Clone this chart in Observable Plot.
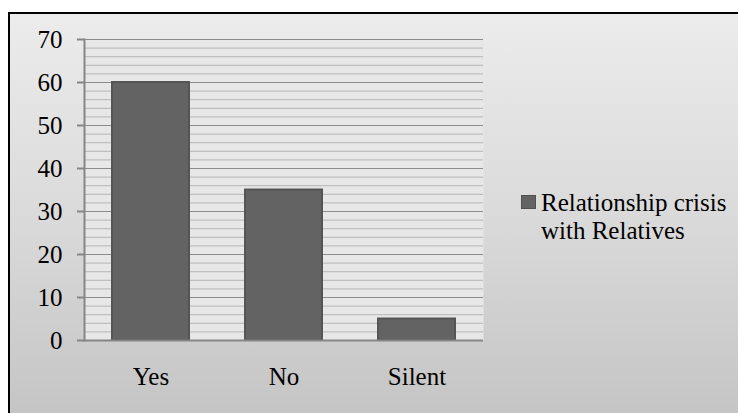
<!DOCTYPE html>
<html>
<head>
<meta charset="utf-8">
<script src="https://cdn.jsdelivr.net/npm/d3@7"></script>
<script src="https://cdn.jsdelivr.net/npm/@observablehq/plot@0.6"></script>
<style>
  html, body { margin: 0; padding: 0; width: 738px; height: 413px; overflow: hidden; background: #fff; }
  #panel {
    position: absolute; left: 8px; top: 12px; width: 760px; height: 430px;
    border: 2px solid #000; box-sizing: border-box;
    background: linear-gradient(to bottom, #ececec 0%, #d9d9d9 50%, #c2c2c2 100%);
  }
  #chart { position: absolute; left: 0; top: 0; }
  #legend {
    position: absolute; left: 521px; top: 189px;
    font-family: "Liberation Serif", "Times New Roman", serif; font-size: 25px; line-height: 28px; color: #000;
  }
  #legend .swatch {
    position: absolute; left: 0; top: 6px; width: 13px; height: 12px;
    background: #636363; border: 1px solid #4f4f4f;
  }
  #legend .label { position: absolute; left: 20px; top: 0; white-space: nowrap; }
</style>
</head>
<body>
<div id="panel"></div>
<div id="chart"></div>
<div id="legend"><span class="swatch"></span><div class="label">Relationship crisis<br>with Relatives</div></div>
<script>
// Responses
const answers = ["Yes", "No", "Silent"];
const counts = [60, 35, 5];
const seriesName = "Relationship crisis with Relatives";

// Axis ticks
const yTicks = [0, 10, 20, 30, 40, 50, 60, 70];
const minorTicks = [2, 4, 6, 8, 12, 14, 16, 18, 22, 24, 26, 28, 32, 34, 36, 38, 42, 44, 46, 48, 52, 54, 56, 58, 62, 64, 66, 68];

const data = answers.map((a, i) => ({answer: a, value: counts[i], series: seriesName}));

const chart = Plot.plot({
  width: 738,
  height: 413,
  marginLeft: 84,
  marginRight: 255,
  marginTop: 39,
  marginBottom: 73,
  style: {background: "transparent", fontFamily: "'Liberation Serif', 'Times New Roman', serif", fontSize: "25px", color: "#000"},
  x: {domain: answers, paddingInner: 0.42, paddingOuter: 0.21, label: null},
  y: {domain: [0, 70], label: null},
  marks: [
    Plot.frame({fill: "#e7e7e7", stroke: null}),
    Plot.ruleY(minorTicks, {stroke: "#b5b5b5", strokeWidth: 1}),
    Plot.ruleY(yTicks.slice(1), {stroke: "#8c8c8c", strokeWidth: 1}),
    Plot.barY(data, {x: "answer", y: "value", fill: "#636363", stroke: "#555555", strokeWidth: 2, title: "series"}),
    Plot.frame({anchor: "left", stroke: "#868686", strokeWidth: 2}),
    Plot.ruleY([0], {stroke: "#868686", strokeWidth: 2}),
    Plot.axisY({ticks: yTicks, tickSize: 7, tickPadding: 15, stroke: "#868686", strokeWidth: 2, fill: "#000", fontSize: 25, label: null}),
    Plot.axisX({tickSize: 0, tickPadding: 27, fill: "#000", fontSize: 25, label: null})
  ]
});
document.getElementById("chart").appendChild(chart);
</script>
</body>
</html>
